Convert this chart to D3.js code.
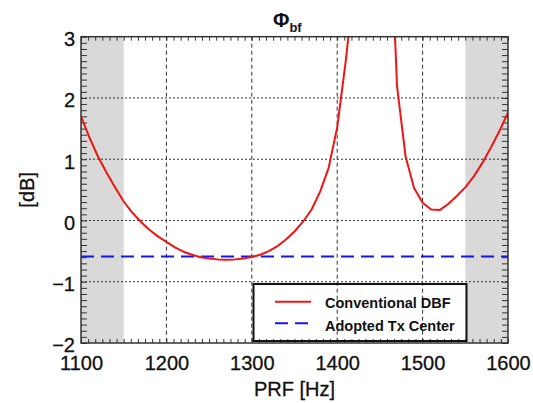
<!DOCTYPE html>
<html><head><meta charset="utf-8">
<script src="https://cdn.jsdelivr.net/npm/d3@7"></script>
<style>body{margin:0;background:#fff}svg{display:block}text{font-family:"Liberation Sans",Arial,sans-serif}</style>
</head><body>
<svg id="c" width="533" height="403"></svg>
<script>
const prf = [1100,1110,1120,1130,1140,1150,1160,1170,1180,1190,1200,1210,1220,1230,1240,1250,1260,1270,1280,1290,1300,1310,1320,1330,1340,1350,1360,1370,1380,1390,1400,1410,1420,1430,1440,1450,1460,1470,1480,1490,1500,1510,1520,1530,1540,1550,1560,1570,1580,1590,1600];
const conventionalDBF = [1.70,1.35,1.04,0.78,0.54,0.31,0.13,-0.02,-0.15,-0.26,-0.35,-0.44,-0.51,-0.56,-0.60,-0.62,-0.635,-0.64,-0.635,-0.62,-0.595,-0.56,-0.50,-0.42,-0.31,-0.18,-0.02,0.18,0.47,0.86,1.52,2.60,3.90,6.0,9.0,8.0,5.70,2.20,1.05,0.53,0.29,0.18,0.17,0.27,0.40,0.54,0.72,0.94,1.19,1.46,1.76];
const adoptedTxCenter = -0.59;
const shadeRanges = [[1100,1150],[1550,1600]];
const xTicks = [1100,1200,1300,1400,1500,1600];
const yTicks = [-2,-1,0,1,2,3];
const xGrid = [1200,1300,1400,1500];
const yGrid = [-1,0,1,2];
const legendLabels = ["Conventional DBF","Adopted Tx Center"];

const L=81, R=508, T=36.7, B=343;
const svg = d3.select("#c");
const x = d3.scaleLinear().domain([1100,1600]).range([L,R]);
const y = d3.scaleLinear().domain([-2,3]).range([B,T]);

svg.append("defs").append("clipPath").attr("id","clip")
  .append("rect").attr("x",L).attr("y",T).attr("width",R-L).attr("height",B-T);

// shading
svg.selectAll("rect.shade").data(shadeRanges).enter().append("rect")
  .attr("x",d=>x(d[0])).attr("width",d=>x(d[1])-x(d[0]))
  .attr("y",T).attr("height",B-T).attr("fill","#d9d9d9");

// grid
svg.selectAll("line.vg").data(xGrid).enter().append("line")
  .attr("x1",d=>x(d)).attr("x2",d=>x(d)).attr("y1",T).attr("y2",B)
  .attr("stroke","#333").attr("stroke-width",1).attr("stroke-dasharray","4,3");
svg.selectAll("line.hg").data(yGrid).enter().append("line")
  .attr("x1",L).attr("x2",R).attr("y1",d=>y(d)).attr("y2",d=>y(d))
  .attr("stroke","#333").attr("stroke-width",1).attr("stroke-dasharray","2,2");

// axes with minor ticks
const xMinor = d3.range(0,61).map(i=>1100+i*100/12);
const yMinor = d3.range(0,51).map(i=>-2+i*0.1);
const axCol="#333";
const gB = svg.append("g").attr("transform",`translate(0,${B})`)
  .call(d3.axisTop(x).tickValues(xMinor).tickSize(4).tickFormat(""));
const gT = svg.append("g").attr("transform",`translate(0,${T})`)
  .call(d3.axisBottom(x).tickValues(xMinor).tickSize(4).tickFormat(""));
const gL = svg.append("g").attr("transform",`translate(${L},0)`)
  .call(d3.axisRight(y).tickValues(yMinor).tickSize(6).tickFormat(""));
const gR = svg.append("g").attr("transform",`translate(${R},0)`)
  .call(d3.axisLeft(y).tickValues(yMinor).tickSize(6).tickFormat(""));
[gB,gT,gL,gR].forEach(g=>{g.select(".domain").remove();g.selectAll("line").attr("stroke",axCol).attr("stroke-width",1);});

// tick labels
const gxl = svg.append("g").call(d3.axisBottom(x).tickValues(xTicks).tickSize(0).tickFormat(d3.format("d")))
  .attr("transform",`translate(0,${B})`);
gxl.select(".domain").remove();
gxl.selectAll("text").attr("y",0).attr("dy",null).attr("transform","translate(0,27)")
  .attr("font-size",20).attr("font-family","Liberation Sans").attr("fill","#111")
  .attr("stroke","#111").attr("stroke-width",0.3);
const gyl = svg.append("g").call(d3.axisLeft(y).tickValues(yTicks).tickSize(0).tickFormat(d=>d<0?"\u2212"+Math.abs(d):d))
  .attr("transform",`translate(${L-6},0)`);
gyl.select(".domain").remove();
gyl.selectAll("text").attr("x",0).attr("dy",null).attr("y",8.8)
  .attr("font-size",20).attr("font-family","Liberation Sans").attr("fill","#111")
  .attr("stroke","#111").attr("stroke-width",0.3);

// data
svg.append("line").attr("x1",L).attr("x2",R).attr("y1",y(adoptedTxCenter)).attr("y2",y(adoptedTxCenter))
  .attr("stroke","#1515f0").attr("stroke-width",2).attr("stroke-dasharray","13,7");
const line = d3.line().x((d,i)=>x(prf[i])).y(d=>y(d));
svg.append("path").attr("clip-path","url(#clip)").attr("d",line(conventionalDBF))
  .attr("fill","none").attr("stroke","#f01414").attr("stroke-width",2).attr("stroke-linejoin","round");

// frame
svg.append("rect").attr("x",L).attr("y",T).attr("width",R-L).attr("height",B-T)
  .attr("fill","none").attr("stroke",axCol).attr("stroke-width",1.5);

// legend (transparent box, grid shows through)
const lg = svg.append("g");
lg.append("rect").attr("x",253.5).attr("y",284).attr("width",213).attr("height",57)
  .attr("fill","none").attr("stroke","#111").attr("stroke-width",2);
lg.append("line").attr("x1",275).attr("x2",311).attr("y1",301.7).attr("y2",301.7).attr("stroke","#f01414").attr("stroke-width",2);
lg.append("line").attr("x1",275).attr("x2",311).attr("y1",323.3).attr("y2",323.3).attr("stroke","#1515f0").attr("stroke-width",2).attr("stroke-dasharray","13,7");
lg.selectAll("text").data(legendLabels).enter().append("text")
  .attr("x",325).attr("y",(d,i)=>308.3+i*22.4).text(d=>d)
  .attr("font-size",14.5).attr("font-weight","bold").attr("fill","#111");

// titles
const t = svg.append("text").attr("x",273).attr("y",27).attr("font-weight","bold").attr("fill","#111");
t.append("tspan").attr("font-size",20).text("\u03A6");
t.append("tspan").attr("font-size",13).attr("dy",5).text("bf");
svg.append("text").attr("x",(L+R)/2).attr("y",396).attr("text-anchor","middle")
  .attr("font-size",20).attr("fill","#111").attr("stroke","#111").attr("stroke-width",0.3).text("PRF [Hz]");
svg.append("text").attr("transform",`translate(34,${(T+B)/2}) rotate(-90)`).attr("text-anchor","middle")
  .attr("font-size",20).attr("fill","#111").attr("stroke","#111").attr("stroke-width",0.3).text("[dB]");
</script>
</body></html>
